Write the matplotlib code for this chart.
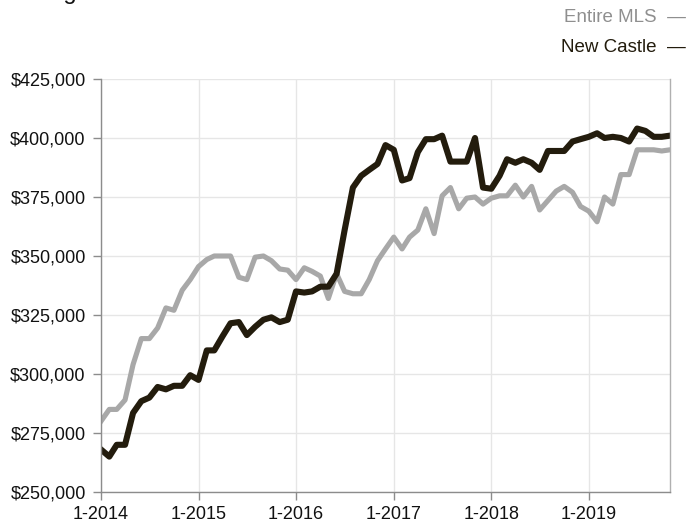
import numpy as np
import pandas as pd
import matplotlib
matplotlib.use('Agg')
import matplotlib.pyplot as plt
from matplotlib.ticker import FuncFormatter

plt.rcParams['font.family'] = ['Liberation Sans', 'DejaVu Sans']

# monthly values, thousands of dollars, Jan 2014 .. Nov 2019
months = pd.date_range('2014-01-01', periods=71, freq='MS')

entire_mls = [
    280, 285, 285, 289, 304, 315, 315, 319.5, 328, 327, 335.5, 340,
    345.5, 348.5, 350, 350, 350, 341, 340, 349.5, 350, 348, 344.5, 344,
    340, 345, 343.5, 341.5, 332, 342.5, 335, 334, 334, 340, 348, 353,
    358, 353, 358, 361, 370, 359.5, 375.5, 379, 370, 374.5, 375, 372,
    374.5, 375.5, 375.5, 380, 375, 379.5, 369.5, 373.5, 377.5, 379.5, 377, 371,
    369, 364.5, 375, 372, 384.5, 384.5, 395, 395, 395, 394.5, 395,
]

new_castle = [
    268, 265, 270, 270, 283.5, 288.5, 290, 294.5, 293.5, 295, 295, 299.5,
    297.5, 310, 310, 316, 321.5, 322, 316.5, 320, 323, 324, 322, 323,
    335, 334.5, 335, 337, 337, 342.5, 361, 379, 384, 386.5, 389, 397,
    395, 382, 383, 394, 399.5, 399.5, 401, 390, 390, 390, 400, 379,
    378.5, 384, 391, 389.5, 391, 389.5, 386.5, 394.5, 394.5, 394.5, 398.5, 399.5,
    400.5, 402, 400, 400.5, 400, 398.5, 404, 403, 400.5, 400.5, 401,
]

tick_dates = pd.date_range('2014-01-01', periods=6, freq='12MS')
tick_labels = ['1-2014', '1-2015', '1-2016', '1-2017', '1-2018', '1-2019']

gray = '#a8a8a8'
dark = '#231c0d'

fig = plt.figure(figsize=(6.88, 5.25), dpi=100)
ax = fig.add_axes([101/688, 1 - 492/525, (670-101)/688, (492-79)/525])

ax.plot(months, np.array(entire_mls) * 1000, color=gray, lw=3.7, solid_joinstyle='round')
ax.plot(months, np.array(new_castle) * 1000, color=dark, lw=4.4, solid_joinstyle='round')

ax.set_xlim(months[0], months[-1])
ax.set_ylim(250000, 425000)
ax.set_yticks(np.arange(250000, 425001, 25000))
ax.yaxis.set_major_formatter(FuncFormatter(lambda v, p: '${:,.0f}'.format(v)))
ax.set_xticks(tick_dates)
ax.set_xticklabels(tick_labels)

ax.grid(True, color='#e6e6e6', lw=1)
ax.set_axisbelow(True)
for s in ['left', 'bottom', 'right']:
    ax.spines[s].set_color('#8c8c8c')
    ax.spines[s].set_linewidth(1)
ax.spines['right'].set_color('#b0b0b0')
ax.spines['top'].set_visible(False)
ax.tick_params(axis='both', colors='#8c8c8c', length=6, width=1, labelsize=13,
               labelcolor='#111111')
ax.tick_params(axis='y', pad=5)
ax.tick_params(axis='x', pad=4)

# legend texts in the top right corner
fig.text(686/688, 1 - 18/525, 'Entire MLS  \u2014', color='#8f8f8f', fontsize=13.5,
         ha='right', va='center')
fig.text(686/688, 1 - 48/525, 'New Castle  \u2014', color=dark, fontsize=13.5,
         ha='right', va='center')

# heading that sits mostly above the top edge, only descenders show
fig.text(4/688, 1 + 1/525, 'Rolling 12-Month Calculation', color='#111111', fontsize=17,
         ha='left', va='baseline')

fig.savefig('out.png', dpi=100)
